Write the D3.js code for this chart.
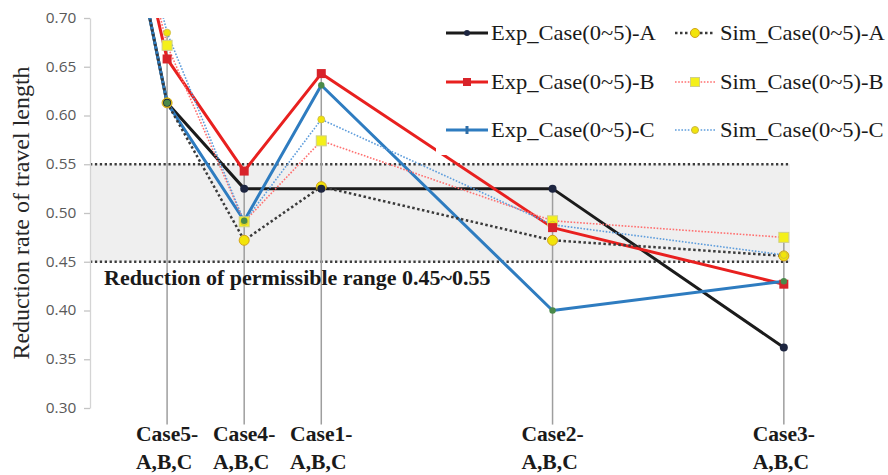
<!DOCTYPE html>
<html>
<head>
<meta charset="utf-8">
<script src="https://cdn.jsdelivr.net/npm/d3@7"></script>
<style>
  html, body { margin: 0; padding: 0; background: #ffffff; }
  svg { display: block; }
</style>
</head>
<body>
<svg id="chart" width="888" height="475"></svg>
<script>
// ---- data -------------------------------------------------------------
// x position of each case on the horizontal axis (Case0 sits at the origin)
const casePos   = [0, 1, 2, 3, 6, 9];
const caseNames = [null, "Case5-", "Case4-", "Case1-", "Case2-", "Case3-"];
const caseSub   = "A,B,C";

// reduction rate of travel length, per case (same order as casePos)
const expA = [1.000, 0.613, 0.525, 0.525, 0.525, 0.362];
const expB = [1.000, 0.658, 0.543, 0.643, 0.485, 0.427];
const expC = [1.000, 0.613, 0.492, 0.631, 0.400, 0.430];
const simA = [1.000, 0.613, 0.472, 0.527, 0.472, 0.456];
const simB = [1.000, 0.672, 0.491, 0.574, 0.492, 0.475];
const simC = [1.000, 0.685, 0.491, 0.596, 0.488, 0.457];

const seriesNames = [
  "Exp_Case(0~5)-A", "Exp_Case(0~5)-B", "Exp_Case(0~5)-C",
  "Sim_Case(0~5)-A", "Sim_Case(0~5)-B", "Sim_Case(0~5)-C"
];

const yTicks    = [0.30, 0.35, 0.40, 0.45, 0.50, 0.55, 0.60, 0.65, 0.70];
const bandRange = [0.45, 0.55];
const bandLabel = "Reduction of permissible range 0.45~0.55";
const yTitle    = "Reduction rate of travel length";
const dropFloor = 0.283;   // drop lines run a little below the lowest tick

// ---- layout -----------------------------------------------------------
const svg = d3.select("#chart");
const x = d3.scaleLinear().domain([0, 9.08]).range([90, 790]);
const y = d3.scaleLinear().domain([0.30, 0.70]).range([408, 18]);
const SX = 1.1;            // horizontal stretch applied to horizontal text

const serif = "'Liberation Serif','Times New Roman',Times,serif";

function hText(g, px, py, str, opts = {}) {
  return g.append("text")
    .attr("transform", `translate(${px},${py}) scale(${opts.sx || SX},1)`)
    .attr("font-family", opts.family || serif)
    .attr("font-size", opts.size || 20)
    .attr("font-weight", opts.weight || "normal")
    .attr("fill", opts.fill || "#1a1a1a")
    .attr("text-anchor", opts.anchor || "start")
    .text(str);
}

// permissible band
const [x0, x1] = x.domain();
svg.append("rect")
  .attr("x", x(x0)).attr("width", x(x1) - x(x0))
  .attr("y", y(bandRange[1])).attr("height", y(bandRange[0]) - y(bandRange[1]))
  .attr("fill", "#efefef");

svg.selectAll("line.ref")
  .data(bandRange)
  .join("line")
  .attr("class", "ref")
  .attr("x1", x(x0)).attr("x2", x(x1))
  .attr("y1", d => y(d)).attr("y2", d => y(d))
  .attr("stroke", "#3c3c3c")
  .attr("stroke-width", 2.3)
  .attr("stroke-dasharray", "2.3,2.6");

// y axis
const yAxis = d3.axisLeft(y)
  .tickValues(yTicks)
  .tickFormat(d3.format(".2f"))
  .tickSize(6)
  .tickSizeOuter(0)
  .tickPadding(6.5);

const gy = svg.append("g")
  .attr("transform", `translate(${x(x0)},0)`)
  .call(yAxis);
gy.select(".domain").attr("stroke", "#d4d4d4").attr("stroke-width", 1.3);
gy.selectAll(".tick line").attr("stroke", "#c4c4c4").attr("stroke-width", 1.3);
gy.selectAll(".tick text")
  .attr("font-family", "'Open Sans','Noto Sans',sans-serif")
  .attr("font-size", 14)
  .attr("fill", "#595959")
  .attr("transform", `scale(${SX},1)`);

// y title
svg.append("text")
  .attr("transform", `translate(29,${(y(0.30) + y(0.70)) / 2 - 0}) rotate(-90)`)
  .attr("text-anchor", "middle")
  .attr("font-family", serif)
  .attr("font-size", 24)
  .attr("fill", "#262626")
  .text(yTitle);

// drop lines from the highest value of each case
const allSeries = [expA, expB, expC, simA, simB, simC];
const dropIdx = casePos.map((p, i) => i).filter(i => caseNames[i]);
svg.selectAll("line.drop")
  .data(dropIdx)
  .join("line")
  .attr("class", "drop")
  .attr("x1", i => x(casePos[i])).attr("x2", i => x(casePos[i]))
  .attr("y1", i => y(d3.max(allSeries, s => s[i])))
  .attr("y2", y(dropFloor))
  .attr("stroke", "#9e9e9e")
  .attr("stroke-width", 1.5);

// band label
hText(svg, 104, 285, bandLabel, { weight: "bold", size: 20 });

// category labels
dropIdx.forEach(i => {
  const cx = x(casePos[i]);
  const t = hText(svg, 0, 0, caseNames[i], { weight: "bold", size: 20, sx: 1.08 });
  const w = t.node().getComputedTextLength() * 1.08;
  t.attr("transform", `translate(${cx - w / 2},441) scale(1.08,1)`);
  hText(svg, cx - w / 2, 469, caseSub, { weight: "bold", size: 20, sx: 1.08 });
});

// series
svg.append("defs").append("clipPath").attr("id", "plotClip")
  .append("rect").attr("x", x(x0)).attr("y", y(0.70)).attr("width", x(x1) - x(x0) + 6).attr("height", 475);

const plot = svg.append("g").attr("clip-path", "url(#plotClip)");
const line = d3.line().x((d, i) => x(casePos[i])).y(d => y(d));

const styles = [
  { data: expA, stroke: "#1b1b1b", width: 3,   dash: null },
  { data: expB, stroke: "#e8201f", width: 3,   dash: null },
  { data: expC, stroke: "#2e7cc0", width: 3,   dash: null },
  { data: simA, stroke: "#3a3a3a", width: 2.5, dash: "2.5,2.5" },
  { data: simB, stroke: "#ff7070", width: 1.6, dash: "1.6,1.6" },
  { data: simC, stroke: "#5e9ddc", width: 1.6, dash: "1.6,1.6" }
];

styles.forEach(s => {
  plot.append("path")
    .datum(s.data)
    .attr("d", line)
    .attr("fill", "none")
    .attr("stroke", s.stroke)
    .attr("stroke-width", s.width)
    .attr("stroke-dasharray", s.dash)
    .attr("stroke-linejoin", "round");
});

const pts = arr => arr.map((v, i) => ({ cx: x(casePos[i]), cy: y(v) }));

// simulation markers
plot.selectAll("circle.simA").data(pts(simA)).join("circle")
  .attr("cx", d => d.cx).attr("cy", d => d.cy).attr("r", 5)
  .attr("fill", "#f2e40a").attr("stroke", "#d2a21a").attr("stroke-width", 1);
plot.selectAll("rect.simB").data(pts(simB)).join("rect")
  .attr("x", d => d.cx - 5).attr("y", d => d.cy - 5).attr("width", 10).attr("height", 10)
  .attr("fill", "#f4f01a").attr("stroke", "#cfcf8a").attr("stroke-width", 1);
plot.selectAll("circle.simC").data(pts(simC)).join("circle")
  .attr("cx", d => d.cx).attr("cy", d => d.cy).attr("r", 3.5)
  .attr("fill", "#f2e40a").attr("stroke", "#c9b84a").attr("stroke-width", 0.8);

// experiment markers
plot.selectAll("circle.expA").data(pts(expA)).join("circle")
  .attr("cx", d => d.cx).attr("cy", d => d.cy).attr("r", 4)
  .attr("fill", "#1d2540");
plot.selectAll("rect.expB").data(pts(expB)).join("rect")
  .attr("x", d => d.cx - 4.5).attr("y", d => d.cy - 4.5).attr("width", 9).attr("height", 9)
  .attr("fill", "#d8232a");
plot.selectAll("circle.expC").data(pts(expC)).join("circle")
  .attr("cx", d => d.cx).attr("cy", d => d.cy).attr("r", 3.2)
  .attr("fill", "#4a8a4a");

// legend
const lg = svg.append("g");
lg.append("rect").attr("x", 436).attr("y", 0).attr("width", 452).attr("height", 155).attr("fill", "#ffffff");

const rowsY = [33, 82, 130];
const cols = [
  { x1: 446, x2: 488, tx: 491 },
  { x1: 675, x2: 715, tx: 720 }
];

seriesNames.forEach((name, k) => {
  const col = cols[Math.floor(k / 3)];
  const ry = rowsY[k % 3];
  const s = styles[k];
  const mx = (col.x1 + col.x2) / 2;
  lg.append("line")
    .attr("x1", col.x1).attr("x2", col.x2).attr("y1", ry).attr("y2", ry)
    .attr("stroke", s.stroke).attr("stroke-width", s.width)
    .attr("stroke-dasharray", s.dash);
  if (k === 0) lg.append("circle").attr("cx", mx).attr("cy", ry).attr("r", 3).attr("fill", "#1d2540");
  if (k === 1) lg.append("rect").attr("x", mx - 4).attr("y", ry - 4).attr("width", 8).attr("height", 8).attr("fill", "#d8232a");
  if (k === 2) lg.append("rect").attr("x", mx - 1.5).attr("y", ry - 4).attr("width", 3).attr("height", 8).attr("fill", "#2e6ea8");
  if (k === 3) lg.append("circle").attr("cx", mx).attr("cy", ry).attr("r", 4.5).attr("fill", "#f2e40a").attr("stroke", "#d2a21a");
  if (k === 4) lg.append("rect").attr("x", mx - 4.5).attr("y", ry - 4.5).attr("width", 9).attr("height", 9).attr("fill", "#f4f01a").attr("stroke", "#cfcf8a");
  if (k === 5) lg.append("circle").attr("cx", mx).attr("cy", ry).attr("r", 3.5).attr("fill", "#f2e40a").attr("stroke", "#c9b84a");
  hText(lg, col.tx, ry + 7, name, { size: 20.5 });
});
</script>
</body>
</html>
